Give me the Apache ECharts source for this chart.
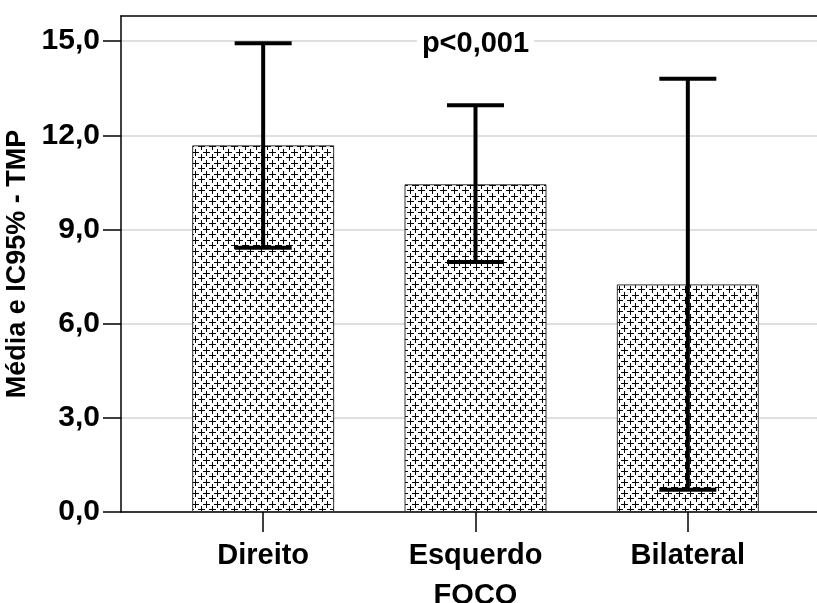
<!DOCTYPE html>
<html>
<head>
<meta charset="utf-8">
<script src="https://cdn.jsdelivr.net/npm/echarts@6/dist/echarts.min.js"></script>
<style>
  html, body { margin: 0; padding: 0; background: #fff; }
  #chart { width: 817px; height: 603px; }
</style>
</head>
<body>
<div id="chart"></div>
<script>
// Mean TMP by focus side, with 95% confidence intervals
const categories = ['Direito', 'Esquerdo', 'Bilateral'];
const means = [11.68, 10.44, 7.25];
const ciLower = [8.42, 7.96, 0.71];
const ciUpper = [14.93, 12.96, 13.80];
const yTicks = [0, 3, 6, 9, 12, 15];
const pValueText = 'p<0,001';

const FONT = '"Liberation Sans", Arial, sans-serif';
const Y_MAX = 15.8;

// Small repeating tile of "+" marks used as the bar fill
function makePlusTile() {
  const W = 11, H = 11;
  const c = document.createElement('canvas');
  c.width = W; c.height = H;
  const g = c.getContext('2d');
  g.fillStyle = '#ffffff';
  g.fillRect(0, 0, W, H);
  g.fillStyle = '#000000';
  const px = (x, y) => g.fillRect(((x % W) + W) % W, ((y % H) + H) % H, 1, 1);
  const plus = (cx, cy, r) => {
    for (let d = -r; d <= r; d++) { px(cx + d, cy); px(cx, cy + d); }
  };
  plus(3, 3, 3);
  plus(8, 9, 3);
  return c;
}

const chart = echarts.init(document.getElementById('chart'), null, { renderer: 'canvas' });

const fmt = v => v.toFixed(1).replace('.', ',');

const option = {
  animation: false,
  backgroundColor: '#ffffff',
  grid: [
    { left: 121, right: 0, top: 16, bottom: 91, outerBoundsMode: 'none' },
    { left: 157, right: 23, top: 16, bottom: 91, outerBoundsMode: 'none' }
  ],
  xAxis: [
    { gridIndex: 0, type: 'value', position: 'bottom', min: 0, max: 1,
      axisLine: { show: true, lineStyle: { color: '#000', width: 1.5 } },
      axisTick: { show: false }, axisLabel: { show: false }, splitLine: { show: false } },
    { gridIndex: 0, type: 'value', position: 'top', min: 0, max: 1,
      axisLine: { show: true, lineStyle: { color: '#000', width: 1.5 } },
      axisTick: { show: false }, axisLabel: { show: false }, splitLine: { show: false } },
    { gridIndex: 1, type: 'category', data: categories, position: 'bottom',
      boundaryGap: true,
      axisLine: { show: false },
      axisTick: { show: true, alignWithLabel: true, length: 20, lineStyle: { color: '#000', width: 1.5 } },
      axisLabel: { color: '#000', fontFamily: FONT, fontWeight: 'bold', fontSize: 29, margin: 29 },
      name: 'FOCO', nameLocation: 'middle', nameGap: 69,
      nameTextStyle: { color: '#000', fontFamily: FONT, fontWeight: 'bold', fontSize: 29 },
      splitLine: { show: false } }
  ],
  yAxis: [
    { gridIndex: 0, type: 'value', min: 0, max: Y_MAX, interval: 3,
      axisLine: { show: true, lineStyle: { color: '#000', width: 1.5 } },
      axisTick: { show: true, length: 18, customValues: yTicks, lineStyle: { color: '#000', width: 1.5 } },
      axisLabel: { customValues: yTicks, formatter: fmt, color: '#000', fontFamily: FONT,
                   fontWeight: 'bold', fontSize: 30, margin: 21 },
      splitLine: { show: true, lineStyle: { color: '#d4d4d4', width: 1.5 } },
      name: 'Média e IC95% - TMP', nameLocation: 'middle', nameGap: 76,
      nameTextStyle: { color: '#000', fontFamily: FONT, fontWeight: 'bold', fontSize: 27 } },
    { gridIndex: 1, type: 'value', min: 0, max: Y_MAX, show: false }
  ],
  series: [
    {
      type: 'bar',
      xAxisIndex: 2, yAxisIndex: 1,
      data: means,
      barWidth: 142,
      itemStyle: {
        color: { image: makePlusTile(), repeat: 'repeat' },
        borderColor: '#333333',
        borderWidth: 1
      },
      z: 2
    },
    {
      type: 'custom',
      xAxisIndex: 2, yAxisIndex: 1,
      data: categories.map((c, i) => [i, ciLower[i], ciUpper[i]]),
      renderItem: function (params, api) {
        const x = api.value(0);
        const lo = api.coord([x, api.value(1)]);
        const hi = api.coord([x, api.value(2)]);
        const half = 28.5;
        const style = { stroke: '#000', lineWidth: 4, fill: null };
        return {
          type: 'group',
          children: [
            { type: 'line', shape: { x1: hi[0], y1: hi[1], x2: lo[0], y2: lo[1] }, style: style },
            { type: 'line', shape: { x1: hi[0] - half, y1: hi[1], x2: hi[0] + half, y2: hi[1] }, style: style },
            { type: 'line', shape: { x1: lo[0] - half, y1: lo[1], x2: lo[0] + half, y2: lo[1] }, style: style }
          ]
        };
      },
      z: 5
    }
  ]
};

chart.setOption(option);

// Significance note, placed over the middle category at the 15 gridline
const pPos = chart.convertToPixel({ xAxisIndex: 2, yAxisIndex: 1 }, ['Esquerdo', 15]);
chart.setOption({
  graphic: [{
    type: 'text',
    x: pPos[0], y: pPos[1] + 3,
    z: 10,
    style: {
      text: pValueText,
      fill: '#000',
      font: 'bold 29px ' + FONT,
      align: 'center',
      verticalAlign: 'middle',
      backgroundColor: '#fff',
      padding: [0, 5]
    }
  }]
});
</script>
</body>
</html>
